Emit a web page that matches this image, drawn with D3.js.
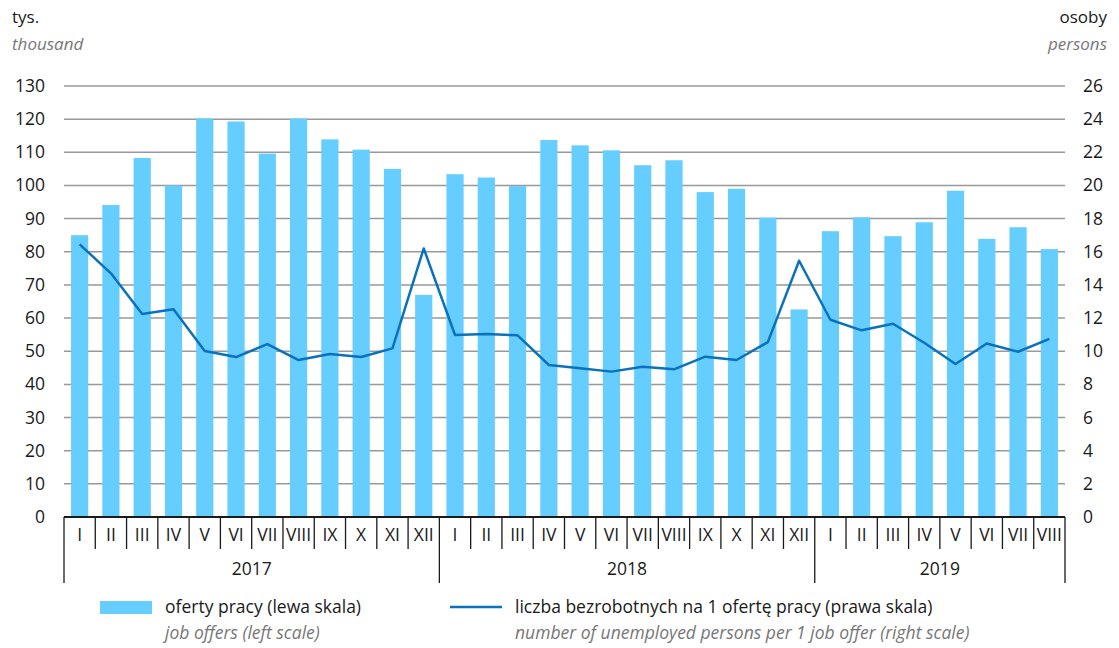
<!DOCTYPE html>
<meta charset="utf-8">
<style>
body { margin: 0; background: #fff; }
svg { font-family: "Open Sans", sans-serif; }
.grid line { stroke: #999; stroke-width: 1.5px; }
.tick-label { font-size: 17.5px; fill: #1a1a1a; }
.unit { font-size: 17px; fill: #1a1a1a; }
.unit-en { font-size: 17px; fill: #777; font-style: italic; }
.legend { font-size: 17.5px; fill: #1a1a1a; }
.legend-en { font-size: 17.5px; fill: #777; font-style: italic; }
</style>

<svg width="1119" height="648"></svg>
<script src="https://d3js.org/d3.v7.min.js"></script>

<script>

var years = ["2017", "2018", "2019"];
var monthsPerYear = [12, 12, 8];
var romans = ["I", "II", "III", "IV", "V", "VI", "VII", "VIII", "IX", "X", "XI", "XII"];

// oferty pracy, tys. (lewa skala)
var offers2017 = [85.0, 94.1, 108.3, 100.0, 120.2, 119.3, 109.6, 120.2, 113.9, 110.8, 105.0, 67.0];
var offers2018 = [103.4, 102.4, 99.8, 113.7, 112.1, 110.6, 106.1, 107.6, 98.0, 99.0, 90.3, 62.6];
var offers2019 = [86.2, 90.4, 84.7, 88.9, 98.4, 83.9, 87.4, 80.8];

// bezrobotni na 1 ofertę (prawa skala)
var ratio2017 = [16.45, 14.7, 12.24, 12.53, 10.01, 9.65, 10.43, 9.47, 9.83, 9.65, 10.17, 16.2];
var ratio2018 = [10.98, 11.04, 10.96, 9.17, 8.97, 8.77, 9.07, 8.91, 9.67, 9.47, 10.55, 15.46];
var ratio2019 = [11.9, 11.26, 11.66, 10.51, 9.23, 10.47, 9.97, 10.74];

var leftTicks = d3.range(0, 131, 10);
var rightTicks = d3.range(0, 27, 2);

var offers = offers2017.concat(offers2018, offers2019);
var ratio = ratio2017.concat(ratio2018, ratio2019);

var data = [];
years.forEach(function(yr, yi) {
    for (var m = 0; m < monthsPerYear[yi]; m++) {
        data.push({ key: yr + "-" + m, year: yr, month: romans[m] });
    }
});
data.forEach(function(d, i) { d.offers = offers[i]; d.ratio = ratio[i]; });

var svg = d3.select("svg");
var plotLeft = 64, plotRight = 1065, plotTop = 86, plotBottom = 517;

var x = d3.scaleBand()
    .domain(data.map(function(d) { return d.key; }))
    .range([plotLeft, plotRight]);

var yL = d3.scaleLinear().domain([0, 130]).range([plotBottom, plotTop]);
var yR = d3.scaleLinear().domain([0, 26]).range([plotBottom, plotTop]);

// grid
svg.append("g").attr("class", "grid")
  .selectAll("line")
  .data(leftTicks.slice(1))
  .enter().append("line")
    .attr("x1", plotLeft).attr("x2", plotRight)
    .attr("y1", yL).attr("y2", yL);

// left labels
svg.append("g")
  .selectAll("text")
  .data(leftTicks)
  .enter().append("text")
    .attr("class", "tick-label")
    .attr("x", 45)
    .attr("y", function(d) { return yL(d) + 6; })
    .attr("text-anchor", "end")
    .text(function(d) { return d; });

// right labels
svg.append("g")
  .selectAll("text")
  .data(rightTicks)
  .enter().append("text")
    .attr("class", "tick-label")
    .attr("x", 1083)
    .attr("y", function(d) { return yR(d) + 6; })
    .text(function(d) { return d; });

// bars
var bw = x.bandwidth() * 0.55;
svg.append("g")
  .selectAll("rect")
  .data(data)
  .enter().append("rect")
    .attr("x", function(d) { return x(d.key) + (x.bandwidth() - bw) / 2; })
    .attr("width", bw)
    .attr("y", function(d) { return yL(d.offers); })
    .attr("height", function(d) { return plotBottom - yL(d.offers); })
    .attr("fill", "#66cdff");

// line
var line = d3.line()
    .x(function(d) { return x(d.key) + x.bandwidth() / 2; })
    .y(function(d) { return yR(d.ratio); });

svg.append("path")
    .datum(data)
    .attr("d", line)
    .attr("fill", "none")
    .attr("stroke", "#0a72bd")
    .attr("stroke-width", 2.5)
    .attr("stroke-linejoin", "round");

// x axis
var ax = svg.append("g").attr("stroke", "#1a1a1a").attr("stroke-width", 1.3);
ax.append("line")
    .attr("x1", plotLeft).attr("x2", plotRight)
    .attr("y1", plotBottom).attr("y2", plotBottom)
    .attr("stroke-width", 1.8);

// month separators
var idx = 0, yearBounds = [0];
monthsPerYear.forEach(function(n) { idx += n; yearBounds.push(idx); });
for (var i = 0; i <= data.length; i++) {
    var xx = i < data.length ? x(data[i].key) : plotRight;
    var isYear = yearBounds.indexOf(i) >= 0;
    ax.append("line")
        .attr("x1", xx).attr("x2", xx)
        .attr("y1", plotBottom).attr("y2", isYear ? 583 : 549);
}

svg.append("g")
  .selectAll("text")
  .data(data)
  .enter().append("text")
    .attr("class", "tick-label")
    .attr("x", function(d) { return x(d.key) + x.bandwidth() / 2; })
    .attr("y", 541)
    .attr("text-anchor", "middle")
    .text(function(d) { return d.month; });

svg.append("g")
  .selectAll("text")
  .data(years)
  .enter().append("text")
    .attr("class", "tick-label")
    .attr("x", function(d, i) {
        var x0 = x(data[yearBounds[i]].key);
        var x1 = yearBounds[i + 1] < data.length ? x(data[yearBounds[i + 1]].key) : plotRight;
        return (x0 + x1) / 2;
    })
    .attr("y", 575)
    .attr("text-anchor", "middle")
    .text(function(d) { return d; });

// unit labels
svg.append("text").attr("class", "unit").attr("x", 12).attr("y", 23).text("tys.");
svg.append("text").attr("class", "unit-en").attr("x", 12).attr("y", 50).text("thousand");
svg.append("text").attr("class", "unit").attr("x", 1107).attr("y", 23).attr("text-anchor", "end").text("osoby");
svg.append("text").attr("class", "unit-en").attr("x", 1107).attr("y", 50).attr("text-anchor", "end").text("persons");

// legend
svg.append("rect").attr("x", 100).attr("y", 601).attr("width", 52).attr("height", 13).attr("fill", "#66cdff");
svg.append("text").attr("class", "legend").attr("x", 165).attr("y", 613).text("oferty pracy (lewa skala)");
svg.append("text").attr("class", "legend-en").attr("x", 165).attr("y", 639).text("job offers (left scale)");

svg.append("line").attr("x1", 450).attr("x2", 502).attr("y1", 607).attr("y2", 607)
    .attr("stroke", "#0a72bd").attr("stroke-width", 2.5);
svg.append("text").attr("class", "legend").attr("x", 515).attr("y", 613).text("liczba bezrobotnych na 1 ofertę pracy (prawa skala)");
svg.append("text").attr("class", "legend-en").attr("x", 515).attr("y", 639).text("number of unemployed persons per 1 job offer (right scale)");

</script>
